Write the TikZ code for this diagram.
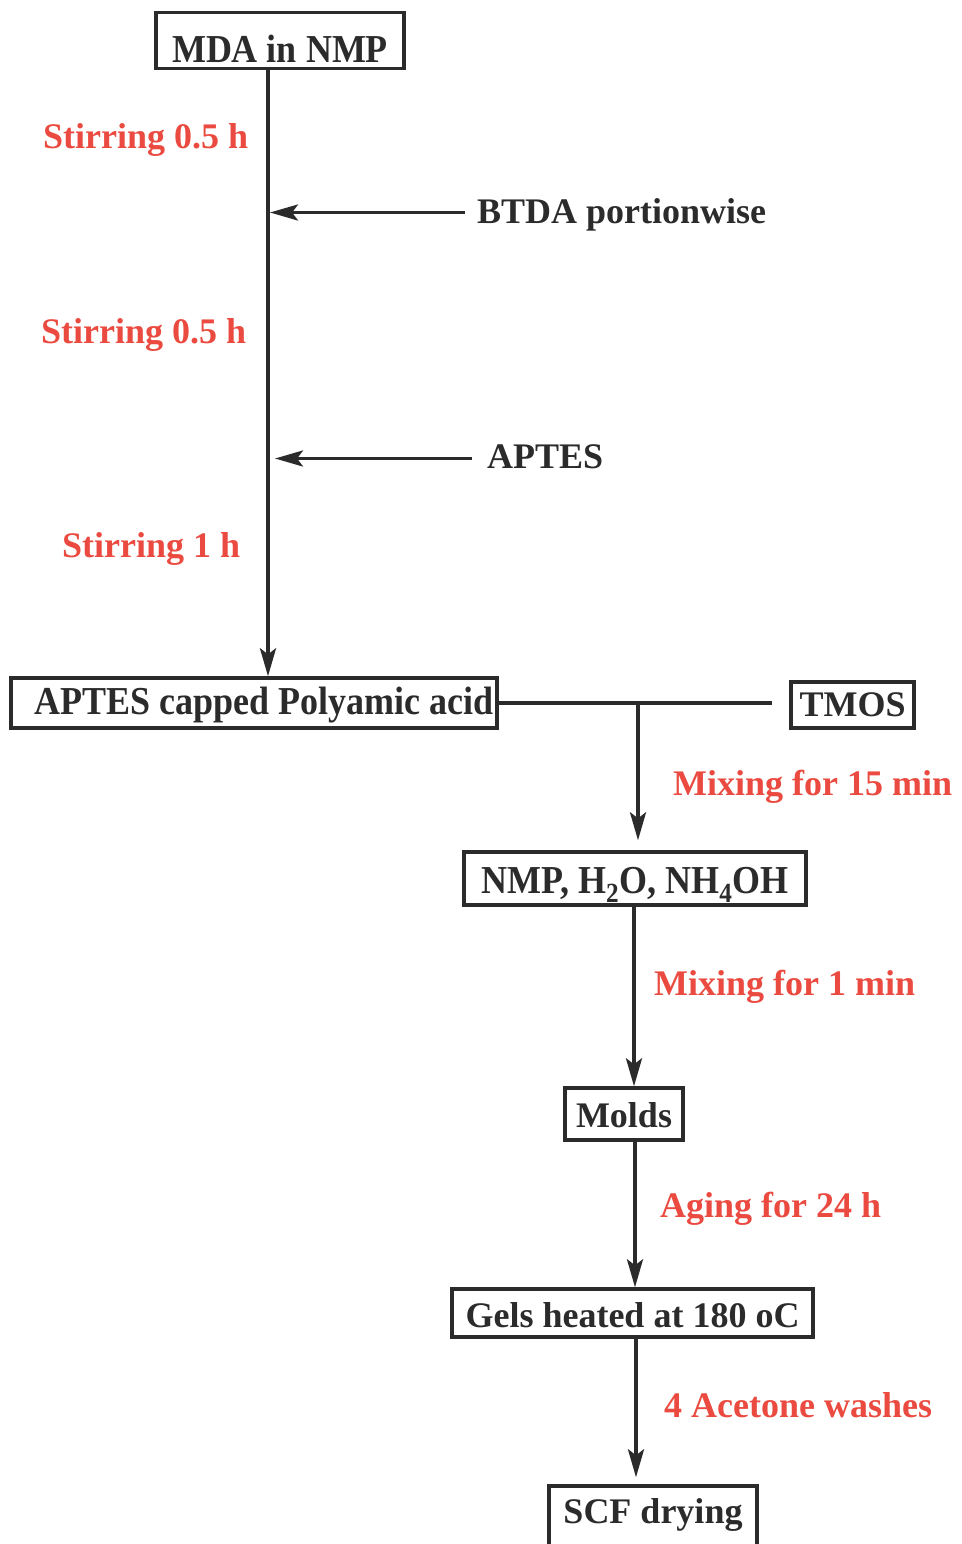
\documentclass[tikz,border=0pt]{standalone}
\usepackage{fontspec}
\setmainfont{Liberation Serif}
\usepackage{graphicx}
\usetikzlibrary{arrows.meta}
\definecolor{ink}{HTML}{2B2B2B}
\definecolor{redlab}{HTML}{EA4A3F}
\begin{document}
\begin{tikzpicture}[x=1pt,y=-1pt,
  txt/.style={font=\fontsize{36}{40}\selectfont\bfseries, text=ink},
  box/.style={txt, draw=ink, line width=3.4pt, inner xsep=0pt, inner ysep=0pt, text depth=0pt},
  lab/.style={font=\fontsize{36}{40}\selectfont\bfseries, text=redlab, inner sep=0pt, anchor=base west},
  side/.style={txt, inner sep=0pt, anchor=base west},
  flow/.style={draw=ink, line width=3.6pt},
  arr/.style={flow, -{Stealth[length=28pt,width=16pt,inset=6pt]}}]
\useasboundingbox (0,0) rectangle (961,1544);

% boxes
\node[box, minimum width=248pt, minimum height=56pt, text height=45pt] (mda) at (280,40.5) {\scalebox{1}[1.1]{MDA in NMP}};
\node[box, minimum width=486pt, minimum height=50pt, text height=22pt] (paa) at (254,703) {\hspace*{20pt}\scalebox{1}[1.1]{APTES capped Polyamic acid}};
\node[box, minimum width=123pt, minimum height=46pt, text height=22pt] (tmos) at (852.5,705) {TMOS};
\node[box, minimum width=342pt, minimum height=53pt, text height=30pt] (sol) at (635,878.5) {\scalebox{1}[1.1]{NMP, H\textsubscript{2}O, NH\textsubscript{4}OH}};
\node[box, minimum width=118pt, minimum height=52pt, text height=26pt] (molds) at (624,1114) {Molds};
\node[box, minimum width=361pt, minimum height=48pt, text height=28pt] (gels) at (632.5,1313) {Gels heated at 180 oC};
\node[box, minimum width=208pt, minimum height=66pt, text height=8pt] (scf) at (653,1519) {SCF drying};

% labels
\node[lab] (s1) at (43,148) {Stirring 0.5 h};
\node[lab] (s2) at (41,343) {Stirring 0.5 h};
\node[lab] (s3) at (62,557) {Stirring 1 h};
\node[side] (btda) at (477,223) {BTDA portionwise};
\node[side] (aptes) at (487,468) {APTES};
\node[lab] (m15) at (673,795) {Mixing for 15 min};
\node[lab] (m1) at (654,995) {Mixing for 1 min};
\node[lab] (age) at (660,1217) {Aging for 24 h};
\node[lab] (ace) at (664,1417) {4 Acetone washes};

% coordinates
\coordinate (mx) at (268,0);
\coordinate (bt0) at (465,212.5);
\coordinate (bt1) at (270,212.5);
\coordinate (ap0) at (472,458.5);
\coordinate (ap1) at (275,458.5);
\coordinate (tm) at (772,703);
\coordinate (j) at (638,703);
\coordinate (x2) at (634,0);
\coordinate (x3) at (635,0);
\coordinate (x4) at (636,0);

% connectors
\draw[arr] (mda.south -| mx) -- (paa.north -| mx);
\draw[arr] (bt0) -- (bt1);
\draw[arr] (ap0) -- (ap1);
\draw[flow] (paa.east) -- (tm);
\draw[arr, shorten >=10pt] (j) -- (j |- sol.north);
\draw[arr] (sol.south -| x2) -- (molds.north -| x2);
\draw[arr] (molds.south -| x3) -- (gels.north -| x3);
\draw[arr, shorten >=7pt] (gels.south -| x4) -- (scf.north -| x4);
\end{tikzpicture}
\end{document}
